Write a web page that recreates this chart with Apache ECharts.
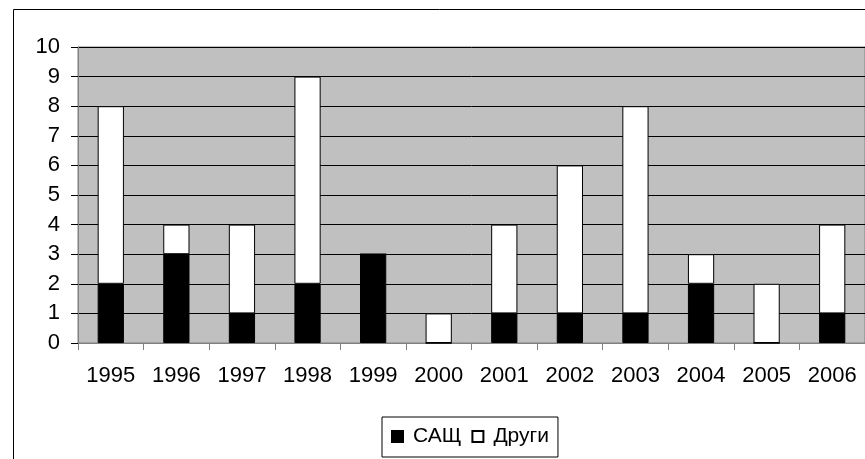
<!DOCTYPE html>
<html>
<head>
<meta charset="utf-8">
<script src="https://cdn.jsdelivr.net/npm/echarts@6/dist/echarts.min.js"></script>
<style>
  html, body { margin: 0; padding: 0; background: #fff; }
  #chart { width: 865px; height: 459px; }
</style>
</head>
<body>
<div id="chart"></div>
<script>
// Years on the category axis
const years = ['1995', '1996', '1997', '1998', '1999', '2000', '2001', '2002', '2003', '2004', '2005', '2006'];
// Counts per year, stacked: САЩ at the bottom, Други on top
const usaCounts = [2, 3, 1, 2, 3, 0, 1, 1, 1, 2, 0, 1];
const otherCounts = [6, 1, 3, 7, 0, 1, 3, 5, 7, 1, 2, 3];
const seriesNames = ['САЩ', 'Други'];

const font = 'Liberation Sans, Arial, sans-serif';
const chart = echarts.init(document.getElementById('chart'), null, { renderer: 'canvas' });

chart.setOption({
  animation: false,
  backgroundColor: '#ffffff',
  textStyle: { fontFamily: font, color: '#000' },
  graphic: [{
    type: 'rect',
    shape: { x: 13.5, y: 9.5, width: 1000, height: 1000 },
    style: { fill: 'none', stroke: '#000', lineWidth: 1 },
    silent: true,
    z: -10
  }],
  grid: {
    left: 78, top: 47, width: 788, height: 296,
    show: true,
    backgroundColor: '#c0c0c0',
    borderColor: '#808080',
    borderWidth: 1
  },
  legend: {
    data: seriesNames,
    left: 382, top: 417,
    orient: 'horizontal',
    padding: [9, 9, 10, 9],
    itemGap: 10,
    itemWidth: 11, itemHeight: 11,
    icon: 'rect',
    borderColor: '#000', borderWidth: 1,
    backgroundColor: '#fff',
    textStyle: { fontFamily: font, fontSize: 21, color: '#000', padding: [0, 0, 0, 5] }
  },
  xAxis: {
    type: 'category',
    data: years,
    axisLine: { show: true, lineStyle: { color: '#808080', width: 1 } },
    axisTick: { show: true, alignWithLabel: false, length: 7, lineStyle: { color: '#808080' } },
    axisLabel: { fontFamily: font, fontSize: 22, color: '#000', margin: 22 },
    splitLine: { show: false }
  },
  yAxis: {
    type: 'value',
    min: 0, max: 10, interval: 1,
    axisLine: { show: true, lineStyle: { color: '#808080', width: 1 } },
    axisTick: { show: true, length: 7, lineStyle: { color: '#000' } },
    axisLabel: { fontFamily: font, fontSize: 22, color: '#000', margin: 18 },
    splitLine: { show: true, lineStyle: { color: '#000', width: 1 } }
  },
  series: [
    {
      name: seriesNames[0],
      type: 'bar',
      stack: 'total',
      data: usaCounts,
      barWidth: '40%',
      itemStyle: { color: '#000', borderColor: '#000', borderWidth: 1 }
    },
    {
      name: seriesNames[1],
      type: 'bar',
      stack: 'total',
      data: otherCounts,
      barWidth: '40%',
      itemStyle: { color: '#fff', borderColor: '#000', borderWidth: 1 }
    }
  ]
});
</script>
</body>
</html>
